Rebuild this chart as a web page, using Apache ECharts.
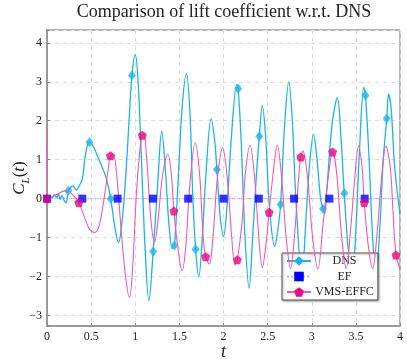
<!DOCTYPE html>
<html><head><meta charset="utf-8">
<script src="https://cdn.jsdelivr.net/npm/echarts@6/dist/echarts.min.js"></script>
<style>html,body{margin:0;padding:0;background:#fff}#c{width:407px;height:361px}</style>
</head><body><div id="c"></div>
<script>
// ---- data ----
const xTicks = [0, 0.5, 1, 1.5, 2, 2.5, 3, 3.5, 4];
const yTicks = [-3, -2, -1, 0, 1, 2, 3, 4];

const dnsT = [0,0.03,0.06,0.08,0.11,0.13,0.15,0.17,0.2,0.22,0.241,0.295,0.33,0.37,0.4,0.44,0.481,0.53,0.57,0.62,0.67,0.722,0.77,0.81,0.85,0.89,0.93,0.962,1.0,1.03,1.07,1.11,1.155,1.203,1.25,1.3,1.34,1.38,1.42,1.444,1.48,1.53,1.58,1.62,1.65,1.684,1.72,1.76,1.8,1.86,1.9,1.925,1.96,2.0,2.04,2.09,2.15,2.166,2.2,2.24,2.29,2.33,2.37,2.406,2.44,2.48,2.52,2.58,2.61,2.647,2.69,2.74,2.78,2.82,2.887,2.94,2.98,3.02,3.06,3.1,3.128,3.145,3.17,3.23,3.29,3.33,3.368,3.41,3.46,3.5,3.54,3.59,3.609,3.65,3.69,3.73,3.77,3.81,3.85,3.87,3.9,3.94,4.0];
const dnsY = [0,0.05,0.02,0.1,0.03,0.12,-0.02,0.08,-0.08,-0.1,0.2,0.33,0.22,0.35,0.5,1.18,1.45,1.32,1.1,0.84,0.54,0.0,-0.75,-1.13,-0.6,0.5,2.0,3.16,3.7,3.1,1.0,-1.2,-2.62,-1.36,0.2,1.73,0.8,-0.6,-1.28,-1.2,0.2,2.3,3.21,2.2,0.2,-1.3,-2.0,-1.0,0.6,2.05,1.5,0.75,-0.4,-0.97,-0.2,1.6,2.93,2.82,1.5,-0.8,-2.3,-1.0,0.5,1.6,2.39,1.5,-0.2,-1.23,-0.9,-0.15,1.8,3.0,2.0,0.0,-2.0,-0.3,1.0,1.65,1.0,0.0,-0.26,-0.4,0.2,1.9,2.59,1.6,0.14,-1.2,-2.0,-0.8,1.2,2.86,2.65,1.0,-1.0,-1.94,-0.8,1.0,2.06,2.69,2.3,0.8,-0.4];
const dnsMarkT = [0,0.241,0.481,0.722,0.962,1.203,1.444,1.684,1.925,2.166,2.406,2.647,2.887,3.128,3.368,3.609,3.85];
const dnsMarkY = [0,0.2,1.45,0.0,3.16,-1.36,-1.2,-1.3,0.75,2.82,1.6,-0.15,-2.0,-0.26,0.14,2.65,2.06];

const efLineT = [0, 4];
const efLineY = [0, 0];
const efMarkT = [0,0.4,0.8,1.2,1.6,2.0,2.4,2.8,3.2,3.6];
const efMarkY = [0,0,0,0,0,0,0,0,0,0];

const vmsT = [0,0.004,0.06,0.12,0.2,0.25,0.3,0.36,0.42,0.48,0.54,0.59,0.64,0.69,0.719,0.75,0.79,0.84,0.89,0.935,0.97,1.01,1.05,1.079,1.1,1.13,1.18,1.22,1.26,1.31,1.37,1.41,1.438,1.48,1.53,1.57,1.62,1.68,1.73,1.77,1.798,1.84,1.88,1.93,1.99,2.04,2.09,2.13,2.157,2.21,2.25,2.3,2.35,2.4,2.44,2.48,2.517,2.56,2.61,2.66,2.71,2.76,2.81,2.85,2.876,2.9,2.95,3.01,3.07,3.13,3.19,3.236,3.28,3.34,3.39,3.44,3.49,3.53,3.57,3.595,3.64,3.69,3.74,3.79,3.84,3.89,3.92,3.955,4.0];
const vmsY = [1.8,0.0,0.05,0.12,0.2,0.18,0.08,-0.1,-0.45,-0.78,-0.87,-0.7,-0.1,0.7,1.1,1.14,0.6,-0.8,-2.0,-2.54,-1.8,0.0,1.2,1.63,1.65,1.0,-0.6,-1.11,-0.5,0.6,1.14,0.6,-0.32,-1.2,-1.85,-1.3,0.4,1.44,0.6,-1.0,-1.49,-1.68,-1.0,0.5,1.31,0.6,-0.9,-1.7,-1.57,-0.6,0.7,1.37,0.6,-1.0,-1.77,-1.2,-0.35,0.6,1.37,0.5,-1.0,-1.8,-0.8,0.5,1.07,1.22,0.6,-1.0,-1.8,-0.6,0.6,1.2,0.7,-1.0,-1.8,-0.8,0.6,1.35,0.8,-0.1,-1.2,-1.8,-0.9,0.5,1.35,0.8,-0.3,-1.45,-1.8];
const vmsMarkT = [0,0.36,0.719,1.079,1.438,1.798,2.157,2.517,2.876,3.236,3.595,3.955];
const vmsMarkY = [0,-0.1,1.1,1.63,-0.32,-1.49,-1.57,-0.35,1.07,1.2,-0.1,-1.45];

const seriesNames = ['DNS', 'EF', 'VMS-EFFC'];
const titleText = 'Comparison of lift coefficient w.r.t. DNS';

// ---- chart ----
const zip = (a, b) => a.map((v, i) => [v, b[i]]);
const SERIF = '"Liberation Serif", "DejaVu Serif", serif';
const cDNS = '#1cb3ea', cEF = '#0000ff', cEFline = 'rgba(120,120,255,0.55)', cVMSline = '#ef5aae', cVMS = '#e8087f';
const pent = 'path://M0,-1 L0.951,-0.309 L0.588,0.809 L-0.588,0.809 L-0.951,-0.309 Z';
const fmtNum = v => (v < 0 ? '\u2212' + (-v) : String(v));

const chart = echarts.init(document.getElementById('c'), null, {renderer: 'canvas'});
chart.setOption({
  animation: false,
  backgroundColor: '#fff',
  graphic: [{type: 'text', x: 224, y: 12, z: 10,
    style: {text: titleText, font: '18px ' + SERIF, fill: '#222', textAlign: 'center', textVerticalAlign: 'middle'}}],
  grid: {left: 47, right: 7, top: 30, bottom: 35, outerBoundsMode: 'none', containLabel: false,
    show: true, borderColor: '#6a6a6a', borderWidth: 1, backgroundColor: 'transparent'},
  xAxis: {
    type: 'value', min: xTicks[0], max: xTicks[xTicks.length - 1], interval: 0.5,
    axisLine: {show: true, onZero: false, lineStyle: {color: '#9a9a9a', width: 2}},
    axisTick: {show: true, inside: true, length: 3, lineStyle: {color: '#888'}},
    axisLabel: {fontFamily: SERIF, fontSize: 12, color: '#222', margin: 5, formatter: v => xTicks.includes(v) ? String(v) : ''},
    splitLine: {show: true, lineStyle: {color: '#dcdcdc', type: [4, 4]}},
    name: 't', nameLocation: 'middle', nameGap: 17, nameMoveOverlap: false,
    nameTextStyle: {fontFamily: SERIF, fontStyle: 'italic', fontSize: 18, color: '#222'}
  },
  yAxis: {
    type: 'value', min: -3.27, max: 4.33, minInterval: 1, maxInterval: 1,
    axisLine: {show: true, onZero: false, lineStyle: {color: '#9a9a9a', width: 2}},
    axisTick: {show: true, inside: true, length: 3, lineStyle: {color: '#888'}},
    axisLabel: {fontFamily: SERIF, fontSize: 12, color: '#222', margin: 5,
      formatter: v => yTicks.includes(v) ? fmtNum(v) : ''},
    splitLine: {show: true, lineStyle: {color: '#dcdcdc', type: [4, 4]}},
    name: '{i|C}{s|L}{n|(}{i|t}{n|)}', nameLocation: 'middle', nameGap: 15, nameRotate: 90, nameMoveOverlap: false,
    nameTextStyle: {color: '#222', rich: {
      i: {fontFamily: SERIF, fontStyle: 'italic', fontSize: 17, color: '#222'},
      n: {fontFamily: SERIF, fontSize: 17, color: '#222'},
      s: {fontFamily: SERIF, fontStyle: 'italic', fontSize: 11, color: '#222', verticalAlign: 'bottom', lineHeight: 24}
    }}
  },
  legend: {
    data: seriesNames, orient: 'vertical', left: 282, top: 253,
    itemWidth: 24, itemHeight: 12, itemGap: 3.5, padding: [2, 4, 2, 4],
    backgroundColor: '#fff', borderColor: '#555', borderWidth: 1,
    shadowColor: 'rgba(0,0,0,0.35)', shadowBlur: 2, shadowOffsetX: 1, shadowOffsetY: 1,
    formatter: n => '{c|' + n + '}',
    textStyle: {rich: {c: {width: 57, align: 'center', fontFamily: SERIF, fontSize: 12, color: '#222'}}}
  },
  series: [
    {name: 'DNS', type: 'line', data: zip(dnsT, dnsY), smooth: 0.35, showSymbol: false, symbol: 'diamond', symbolSize: [8, 10],
      lineStyle: {color: cDNS, width: 1.3}, itemStyle: {color: cDNS}, z: 2},
    {name: 'DNS', type: 'scatter', data: zip(dnsMarkT, dnsMarkY), symbol: 'diamond', symbolSize: [8, 10], itemStyle: {color: cDNS}, z: 3},
    {name: 'EF', type: 'line', data: zip(efLineT, efLineY), showSymbol: false, symbol: 'rect', symbolSize: 8,
      lineStyle: {color: cEFline, width: 1.2, type: 'dotted'}, itemStyle: {color: cEF}, z: 3},
    {name: 'EF', type: 'scatter', data: zip(efMarkT, efMarkY), symbol: 'rect', symbolSize: 8, itemStyle: {color: cEF}, z: 4},
    {name: 'VMS-EFFC', type: 'line', data: zip(vmsT, vmsY), smooth: 0.35, showSymbol: false, symbol: pent, symbolSize: 9,
      lineStyle: {color: cVMSline, width: 1.1}, itemStyle: {color: cVMS}, z: 4},
    {name: 'VMS-EFFC', type: 'scatter', data: zip(vmsMarkT, vmsMarkY), symbol: pent, symbolSize: 9, itemStyle: {color: cVMS}, z: 5}
  ]
});
</script>
</body></html>
